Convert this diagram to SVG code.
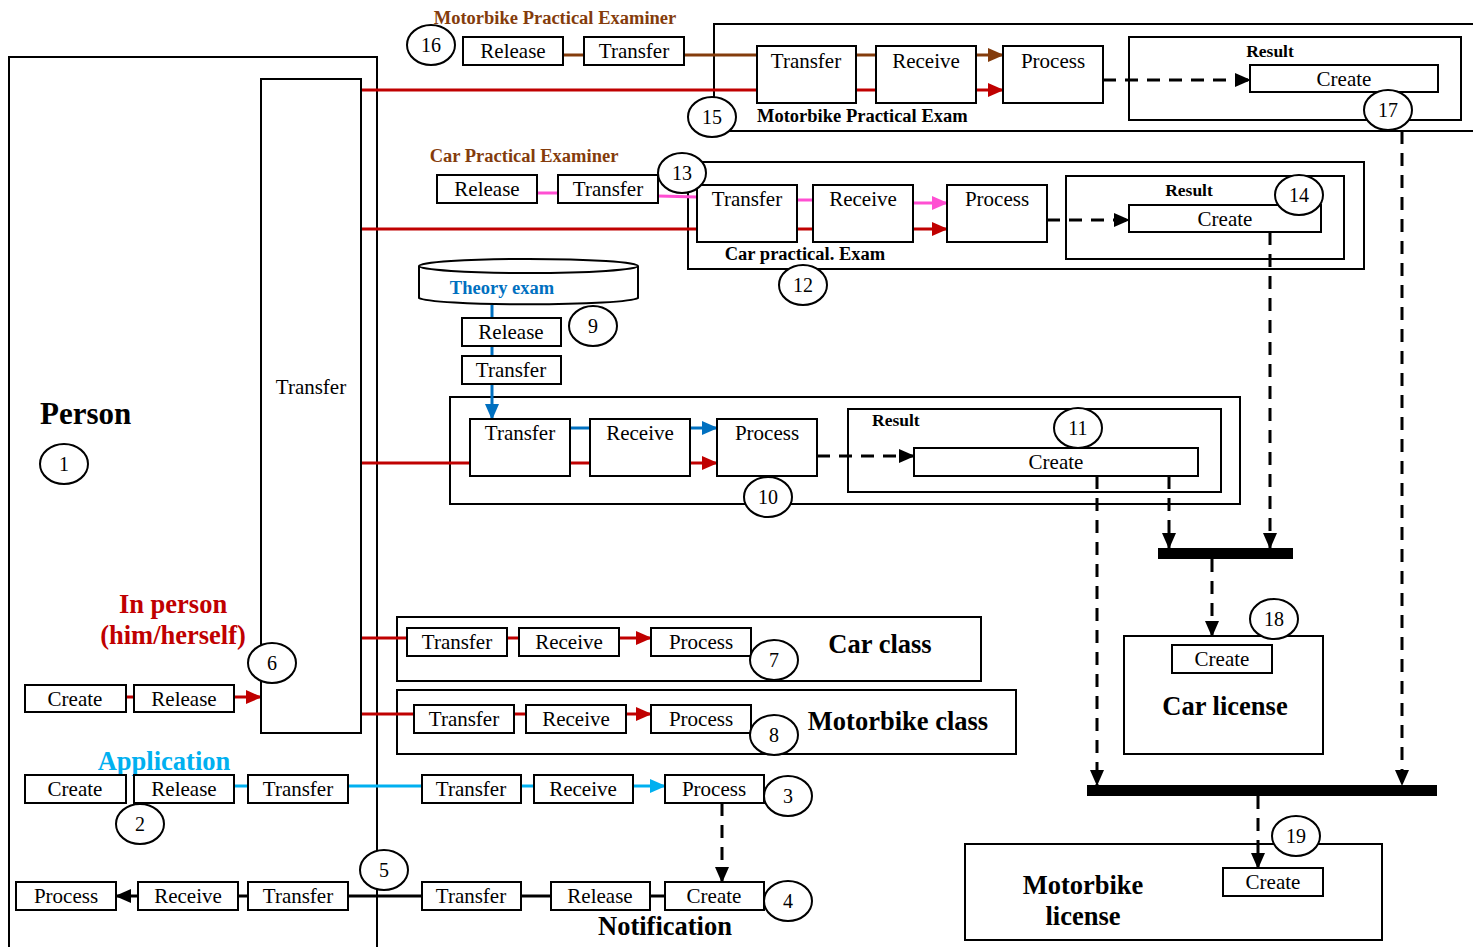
<svg xmlns="http://www.w3.org/2000/svg" width="1473" height="947" viewBox="0 0 1473 947">
<style>
.b{fill:#fff;stroke:#000;stroke-width:2}
.f{fill:none;stroke:#000;stroke-width:2}
.t{font-family:"Liberation Serif",serif;font-size:21px;text-anchor:middle;fill:#000}
.n{font-family:"Liberation Serif",serif;font-size:20px;text-anchor:middle;fill:#000}
.h{font-family:"Liberation Serif",serif;font-weight:bold;fill:#000}
.red{stroke:#C00000;stroke-width:3;fill:none}
.brn{stroke:#843C0C;stroke-width:3;fill:none}
.pnk{stroke:#FF4FD2;stroke-width:3;fill:none}
.blu{stroke:#0070C0;stroke-width:3;fill:none}
.cyn{stroke:#00B0F0;stroke-width:3;fill:none}
.blk{stroke:#000;stroke-width:3;fill:none}
.dsh{stroke:#000;stroke-width:3;fill:none;stroke-dasharray:13 9}
</style>
<defs>
<marker id="aR" markerUnits="userSpaceOnUse" markerWidth="16" markerHeight="16" refX="15" refY="8" viewBox="0 0 16 16" orient="auto"><path d="M0,1 L16,8 L0,15 z" fill="#C00000"/></marker>
<marker id="aBr" markerUnits="userSpaceOnUse" markerWidth="16" markerHeight="16" refX="15" refY="8" viewBox="0 0 16 16" orient="auto"><path d="M0,1 L16,8 L0,15 z" fill="#843C0C"/></marker>
<marker id="aP" markerUnits="userSpaceOnUse" markerWidth="16" markerHeight="16" refX="15" refY="8" viewBox="0 0 16 16" orient="auto"><path d="M0,1 L16,8 L0,15 z" fill="#FF4FD2"/></marker>
<marker id="aB" markerUnits="userSpaceOnUse" markerWidth="16" markerHeight="16" refX="15" refY="8" viewBox="0 0 16 16" orient="auto"><path d="M0,1 L16,8 L0,15 z" fill="#0070C0"/></marker>
<marker id="aC" markerUnits="userSpaceOnUse" markerWidth="16" markerHeight="16" refX="15" refY="8" viewBox="0 0 16 16" orient="auto"><path d="M0,1 L16,8 L0,15 z" fill="#00B0F0"/></marker>
<marker id="aK" markerUnits="userSpaceOnUse" markerWidth="16" markerHeight="16" refX="15" refY="8" viewBox="0 0 16 16" orient="auto"><path d="M0,1 L16,8 L0,15 z" fill="#000"/></marker>
</defs>
<rect x="0" y="0" width="1473" height="947" fill="#fff"/>

<!-- containers -->
<g id="person">
<rect x="9" y="57" width="368" height="900" class="f"/>
<text x="40" y="424" class="h" font-size="31">Person</text>
</g>
<g id="mpe-frame"><rect x="714" y="24" width="770" height="107" class="f"/>
<text x="757" y="122" class="h" font-size="18.5">Motorbike Practical Exam</text></g>
<g id="mpe-result"><rect x="1129" y="37" width="332" height="83" class="f"/>
<text x="1270" y="57" class="h" font-size="17.5" text-anchor="middle">Result</text></g>
<g id="cpe-frame"><rect x="688" y="162" width="676" height="107" class="f"/>
<text x="805" y="260" class="h" font-size="18.5" text-anchor="middle">Car practical. Exam</text></g>
<g id="cpe-result"><rect x="1066" y="176" width="278" height="83" class="f"/>
<text x="1189" y="196" class="h" font-size="17.5" text-anchor="middle">Result</text></g>
<g id="th-frame"><rect x="450" y="397" width="790" height="107" class="f"/></g>
<g id="th-result"><rect x="848" y="409" width="373" height="83" class="f"/>
<text x="872" y="426" class="h" font-size="17.5">Result</text></g>
<g id="carclass"><rect x="397" y="617" width="584" height="64" class="f"/>
<text x="880" y="653" class="h" font-size="26.5" text-anchor="middle">Car class</text></g>
<g id="mbclass"><rect x="397" y="690" width="619" height="64" class="f"/>
<text x="898" y="730" class="h" font-size="26.5" text-anchor="middle">Motorbike class</text></g>
<g id="carlicense"><rect x="1124" y="636" width="199" height="118" class="f"/>
<text x="1225" y="715" class="h" font-size="26.5" text-anchor="middle">Car license</text></g>
<g id="mblicense"><rect x="965" y="844" width="417" height="96" class="f"/>
<text x="1083" y="894" class="h" font-size="26.5" text-anchor="middle">Motorbike</text>
<text x="1083" y="925" class="h" font-size="26.5" text-anchor="middle">license</text></g>

<!-- connectors -->
<g id="connectors">
<line x1="563" y1="55" x2="584" y2="55" class="brn"/>
<line x1="684" y1="55" x2="757" y2="55" class="brn"/>
<line x1="856" y1="55" x2="876" y2="55" class="brn"/>
<line x1="976" y1="55" x2="1003" y2="55" class="brn" marker-end="url(#aBr)"/>
<line x1="361" y1="90" x2="757" y2="90" class="red"/>
<line x1="856" y1="90" x2="876" y2="90" class="red"/>
<line x1="976" y1="90" x2="1003" y2="90" class="red" marker-end="url(#aR)"/>
<line x1="1103" y1="80" x2="1250" y2="80" class="dsh" marker-end="url(#aK)"/>
<line x1="1402" y1="131" x2="1402" y2="785" class="dsh" marker-end="url(#aK)"/>
<line x1="537" y1="193" x2="558" y2="193" class="pnk"/>
<line x1="658" y1="196" x2="697" y2="197" class="pnk"/>
<line x1="797" y1="200" x2="813" y2="200" class="pnk"/>
<line x1="913" y1="203" x2="947" y2="203" class="pnk" marker-end="url(#aP)"/>
<line x1="361" y1="229" x2="697" y2="229" class="red"/>
<line x1="797" y1="229" x2="813" y2="229" class="red"/>
<line x1="913" y1="229" x2="947" y2="229" class="red" marker-end="url(#aR)"/>
<line x1="1047" y1="220" x2="1129" y2="220" class="dsh" marker-end="url(#aK)"/>
<line x1="1270" y1="232" x2="1270" y2="548" class="dsh" marker-end="url(#aK)"/>
<line x1="492" y1="305" x2="492" y2="318" class="blu"/>
<line x1="492" y1="346" x2="492" y2="356" class="blu"/>
<line x1="492" y1="384" x2="492" y2="419" class="blu" marker-end="url(#aB)"/>
<line x1="570" y1="428" x2="590" y2="428" class="blu"/>
<line x1="690" y1="428" x2="717" y2="428" class="blu" marker-end="url(#aB)"/>
<line x1="353" y1="463" x2="470" y2="463" class="red"/>
<line x1="570" y1="463" x2="590" y2="463" class="red"/>
<line x1="690" y1="463" x2="717" y2="463" class="red" marker-end="url(#aR)"/>
<line x1="817" y1="456" x2="914" y2="456" class="dsh" marker-end="url(#aK)"/>
<line x1="1097" y1="476" x2="1097" y2="785" class="dsh" marker-end="url(#aK)"/>
<line x1="1169" y1="476" x2="1169" y2="548" class="dsh" marker-end="url(#aK)"/>
<rect x="1158" y="548" width="135" height="11" fill="#000"/>
<line x1="1212" y1="559" x2="1212" y2="636" class="dsh" marker-end="url(#aK)"/>
<rect x="1087" y="785" width="350" height="11" fill="#000"/>
<line x1="1258" y1="796" x2="1258" y2="868" class="dsh" marker-end="url(#aK)"/>
<line x1="361" y1="638" x2="407" y2="638" class="red"/>
<line x1="507" y1="638" x2="519" y2="638" class="red"/>
<line x1="619" y1="638" x2="651" y2="638" class="red" marker-end="url(#aR)"/>
<line x1="361" y1="714" x2="414" y2="714" class="red"/>
<line x1="514" y1="714" x2="526" y2="714" class="red"/>
<line x1="626" y1="714" x2="651" y2="714" class="red" marker-end="url(#aR)"/>
<line x1="126" y1="697" x2="134" y2="697" class="red"/>
<line x1="234" y1="697" x2="261" y2="697" class="red" marker-end="url(#aR)"/>
<line x1="234" y1="786" x2="248" y2="786" class="cyn"/>
<line x1="348" y1="786" x2="422" y2="786" class="cyn"/>
<line x1="521" y1="786" x2="534" y2="786" class="cyn"/>
<line x1="633" y1="786" x2="665" y2="786" class="cyn" marker-end="url(#aC)"/>
<line x1="722" y1="803" x2="722" y2="882" class="dsh" marker-end="url(#aK)"/>
<line x1="348" y1="896" x2="422" y2="896" class="blk"/>
<line x1="521" y1="896" x2="551" y2="896" class="blk"/>
<line x1="650" y1="896" x2="665" y2="896" class="blk"/>
<line x1="238" y1="896" x2="248" y2="896" class="blk"/>
<line x1="138" y1="896" x2="116" y2="896" class="blk" marker-end="url(#aK)"/>
</g>

<!-- nodes -->
<g id="transfer-main"><rect x="261" y="79" width="100" height="654" class="b"/><text x="311" y="394" class="t">Transfer</text></g>

<g id="mpe-examiner-label"><text x="555" y="24" class="h" font-size="18.5" style="fill:#843C0C" text-anchor="middle">Motorbike Practical Examiner</text></g>
<g id="mpe-release"><rect x="463" y="37" width="100" height="28" class="b"/><text x="513" y="58" class="t">Release</text></g>
<g id="mpe-transfer1"><rect x="584" y="37" width="100" height="28" class="b"/><text x="634" y="58" class="t">Transfer</text></g>
<g id="mpe-transfer"><rect x="757" y="46" width="99" height="57" class="b"/><text x="806" y="68" class="t">Transfer</text></g>
<g id="mpe-receive"><rect x="876" y="46" width="100" height="57" class="b"/><text x="926" y="68" class="t">Receive</text></g>
<g id="mpe-process"><rect x="1003" y="46" width="100" height="57" class="b"/><text x="1053" y="68" class="t">Process</text></g>
<g id="mpe-create"><rect x="1250" y="65" width="188" height="27" class="b"/><text x="1344" y="86" class="t">Create</text></g>

<g id="cpe-examiner-label"><text x="524" y="162" class="h" font-size="18.5" style="fill:#843C0C" text-anchor="middle">Car Practical Examiner</text></g>
<g id="cpe-release"><rect x="437" y="175" width="100" height="28" class="b"/><text x="487" y="196" class="t">Release</text></g>
<g id="cpe-transfer1"><rect x="558" y="175" width="100" height="28" class="b"/><text x="608" y="196" class="t">Transfer</text></g>
<g id="cpe-transfer"><rect x="697" y="185" width="100" height="57" class="b"/><text x="747" y="206" class="t">Transfer</text></g>
<g id="cpe-receive"><rect x="813" y="185" width="100" height="57" class="b"/><text x="863" y="206" class="t">Receive</text></g>
<g id="cpe-process"><rect x="947" y="185" width="100" height="57" class="b"/><text x="997" y="206" class="t">Process</text></g>
<g id="cpe-create"><rect x="1129" y="205" width="192" height="27" class="b"/><text x="1225" y="226" class="t">Create</text></g>

<g id="theory-exam">
<path d="M419,266 L419,298 A110,7 0 0 0 638,298 L638,266" class="b"/>
<ellipse cx="528.5" cy="266" rx="109.5" ry="7" class="b"/>
<text x="502" y="294" class="h" font-size="18.5" style="fill:#0070C0" text-anchor="middle">Theory exam</text>
</g>
<g id="th-release"><rect x="462" y="318" width="99" height="28" class="b"/><text x="511" y="339" class="t">Release</text></g>
<g id="th-transfer1"><rect x="462" y="356" width="99" height="28" class="b"/><text x="511" y="377" class="t">Transfer</text></g>
<g id="th-transfer"><rect x="470" y="419" width="100" height="57" class="b"/><text x="520" y="440" class="t">Transfer</text></g>
<g id="th-receive"><rect x="590" y="419" width="100" height="57" class="b"/><text x="640" y="440" class="t">Receive</text></g>
<g id="th-process"><rect x="717" y="419" width="100" height="57" class="b"/><text x="767" y="440" class="t">Process</text></g>
<g id="th-create"><rect x="914" y="448" width="284" height="28" class="b"/><text x="1056" y="469" class="t">Create</text></g>

<g id="cl-create"><rect x="1172" y="645" width="100" height="28" class="b"/><text x="1222" y="666" class="t">Create</text></g>
<g id="ml-create"><rect x="1223" y="868" width="100" height="28" class="b"/><text x="1273" y="889" class="t">Create</text></g>

<g id="cc-transfer"><rect x="407" y="628" width="100" height="28" class="b"/><text x="457" y="649" class="t">Transfer</text></g>
<g id="cc-receive"><rect x="519" y="628" width="100" height="28" class="b"/><text x="569" y="649" class="t">Receive</text></g>
<g id="cc-process"><rect x="651" y="628" width="100" height="28" class="b"/><text x="701" y="649" class="t">Process</text></g>
<g id="mc-transfer"><rect x="414" y="705" width="100" height="28" class="b"/><text x="464" y="726" class="t">Transfer</text></g>
<g id="mc-receive"><rect x="526" y="705" width="100" height="28" class="b"/><text x="576" y="726" class="t">Receive</text></g>
<g id="mc-process"><rect x="651" y="705" width="100" height="28" class="b"/><text x="701" y="726" class="t">Process</text></g>

<g id="inperson-label">
<text x="173" y="613" class="h" font-size="26.5" style="fill:#C00000" text-anchor="middle">In person</text>
<text x="173" y="644" class="h" font-size="26.5" style="fill:#C00000" text-anchor="middle">(him/herself)</text>
</g>
<g id="ip-create"><rect x="25" y="685" width="101" height="27" class="b"/><text x="75" y="706" class="t">Create</text></g>
<g id="ip-release"><rect x="134" y="685" width="100" height="27" class="b"/><text x="184" y="706" class="t">Release</text></g>

<g id="app-label"><text x="164" y="770" class="h" font-size="26.5" style="fill:#00B0F0" text-anchor="middle">Application</text></g>
<g id="ap-create"><rect x="25" y="775" width="101" height="28" class="b"/><text x="75" y="796" class="t">Create</text></g>
<g id="ap-release"><rect x="134" y="775" width="100" height="28" class="b"/><text x="184" y="796" class="t">Release</text></g>
<g id="ap-transfer"><rect x="248" y="775" width="100" height="28" class="b"/><text x="298" y="796" class="t">Transfer</text></g>
<g id="ap-transfer2"><rect x="422" y="775" width="99" height="28" class="b"/><text x="471" y="796" class="t">Transfer</text></g>
<g id="ap-receive"><rect x="534" y="775" width="99" height="28" class="b"/><text x="583" y="796" class="t">Receive</text></g>
<g id="ap-process"><rect x="665" y="775" width="99" height="28" class="b"/><text x="714" y="796" class="t">Process</text></g>

<g id="nt-process"><rect x="16" y="882" width="100" height="28" class="b"/><text x="66" y="903" class="t">Process</text></g>
<g id="nt-receive"><rect x="138" y="882" width="100" height="28" class="b"/><text x="188" y="903" class="t">Receive</text></g>
<g id="nt-transfer"><rect x="248" y="882" width="100" height="28" class="b"/><text x="298" y="903" class="t">Transfer</text></g>
<g id="nt-transfer2"><rect x="422" y="882" width="99" height="28" class="b"/><text x="471" y="903" class="t">Transfer</text></g>
<g id="nt-release"><rect x="551" y="882" width="99" height="28" class="b"/><text x="600" y="903" class="t">Release</text></g>
<g id="nt-create"><rect x="665" y="882" width="99" height="28" class="b"/><text x="714" y="903" class="t">Create</text></g>
<g id="nt-label"><text x="665" y="935" class="h" font-size="26.5" text-anchor="middle">Notification</text></g>

<!-- numbered circles -->
<g id="c1"><ellipse cx="64" cy="464" rx="24" ry="20" class="b"/><text x="64" y="471" class="n">1</text></g>
<g id="c2"><ellipse cx="140" cy="824" rx="24" ry="20" class="b"/><text x="140" y="831" class="n">2</text></g>
<g id="c3"><ellipse cx="788" cy="796" rx="24" ry="20" class="b"/><text x="788" y="803" class="n">3</text></g>
<g id="c4"><ellipse cx="788" cy="901" rx="24" ry="20" class="b"/><text x="788" y="908" class="n">4</text></g>
<g id="c5"><ellipse cx="384" cy="870" rx="24" ry="20" class="b"/><text x="384" y="877" class="n">5</text></g>
<g id="c6"><ellipse cx="272" cy="663" rx="24" ry="20" class="b"/><text x="272" y="670" class="n">6</text></g>
<g id="c7"><ellipse cx="774" cy="660" rx="24" ry="20" class="b"/><text x="774" y="667" class="n">7</text></g>
<g id="c8"><ellipse cx="774" cy="735" rx="24" ry="20" class="b"/><text x="774" y="742" class="n">8</text></g>
<g id="c9"><ellipse cx="593" cy="326" rx="24" ry="20" class="b"/><text x="593" y="333" class="n">9</text></g>
<g id="c10"><ellipse cx="768" cy="497" rx="24" ry="20" class="b"/><text x="768" y="504" class="n">10</text></g>
<g id="c11"><ellipse cx="1078" cy="428" rx="24" ry="20" class="b"/><text x="1078" y="435" class="n">11</text></g>
<g id="c12"><ellipse cx="803" cy="285" rx="24" ry="20" class="b"/><text x="803" y="292" class="n">12</text></g>
<g id="c13"><ellipse cx="682" cy="173" rx="24" ry="20" class="b"/><text x="682" y="180" class="n">13</text></g>
<g id="c14"><ellipse cx="1299" cy="195" rx="24" ry="20" class="b"/><text x="1299" y="202" class="n">14</text></g>
<g id="c15"><ellipse cx="712" cy="117" rx="24" ry="20" class="b"/><text x="712" y="124" class="n">15</text></g>
<g id="c16"><ellipse cx="431" cy="45" rx="24" ry="20" class="b"/><text x="431" y="52" class="n">16</text></g>
<g id="c17"><ellipse cx="1388" cy="110" rx="24" ry="20" class="b"/><text x="1388" y="117" class="n">17</text></g>
<g id="c18"><ellipse cx="1274" cy="619" rx="24" ry="20" class="b"/><text x="1274" y="626" class="n">18</text></g>
<g id="c19"><ellipse cx="1296" cy="836" rx="24" ry="20" class="b"/><text x="1296" y="843" class="n">19</text></g>
</svg>
